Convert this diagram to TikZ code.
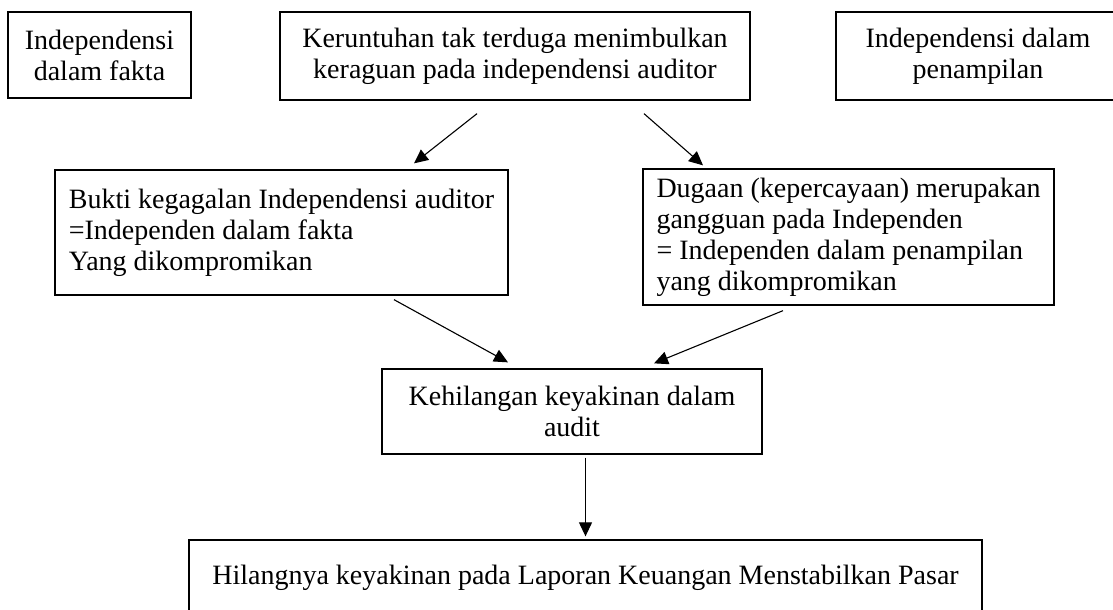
\documentclass[tikz,border=0pt]{standalone}
\usepackage{fontspec}
\setmainfont{Liberation Serif}
\usetikzlibrary{arrows.meta}

\begin{document}
\begin{tikzpicture}[x=1pt,y=-1pt,
    box/.style={draw, line width=1.3pt, align=center, inner sep=0pt, font=\fontsize{28}{31}\selectfont},
    arr/.style={-{Triangle[length=14pt,width=13pt]}, line width=1.1pt}]
    \useasboundingbox (0,0) rectangle (1113,610);

    \node[box, minimum width=183pt, minimum height=86pt] (fakta) at (99.5,55) {Independensi\\dalam fakta};
    \node[box, minimum width=470pt, minimum height=88pt] (runtuh) at (515,56) {Keruntuhan tak terduga menimbulkan\\keraguan pada independensi auditor};
    \node[box, minimum width=284pt, minimum height=88pt] (tampil) at (978,56) {Independensi dalam\\penampilan};

    \node[box, align=left, minimum width=453pt, minimum height=125pt] (bukti) at (281.5,232.5) {Bukti kegagalan Independensi auditor\\=Independen dalam fakta\\Yang dikompromikan};
    \node[box, align=left, minimum width=411pt, minimum height=136pt] (dugaan) at (848.5,237) {Dugaan (kepercayaan) merupakan\\gangguan pada Independen\\= Independen dalam penampilan\\yang dikompromikan};

    \node[box, minimum width=380pt, minimum height=85pt] (hilang) at (572,411.5) {Kehilangan keyakinan dalam\\audit};
    \node[box, minimum width=793pt, minimum height=76pt] (pasar) at (585.5,578) {Hilangnya keyakinan pada Laporan Keuangan Menstabilkan Pasar};

    \draw[arr] ([xshift=-38pt,yshift=-13pt]runtuh.south) -- ([xshift=132.5pt,yshift=6pt]bukti.north);
    \draw[arr] ([xshift=129pt,yshift=-13pt]runtuh.south) -- ([xshift=-145.5pt,yshift=3pt]dugaan.north);
    \draw[arr] ([xshift=112.5pt,yshift=-4pt]bukti.south) -- ([xshift=-64pt,yshift=6pt]hilang.north);
    \draw[arr] ([xshift=-65.5pt,yshift=-5pt]dugaan.south) -- ([xshift=82pt,yshift=5pt]hilang.north);
    \draw[arr] ([xshift=13.5pt,yshift=-3pt]hilang.south) -- ([yshift=3pt]pasar.north);
\end{tikzpicture}
\end{document}
